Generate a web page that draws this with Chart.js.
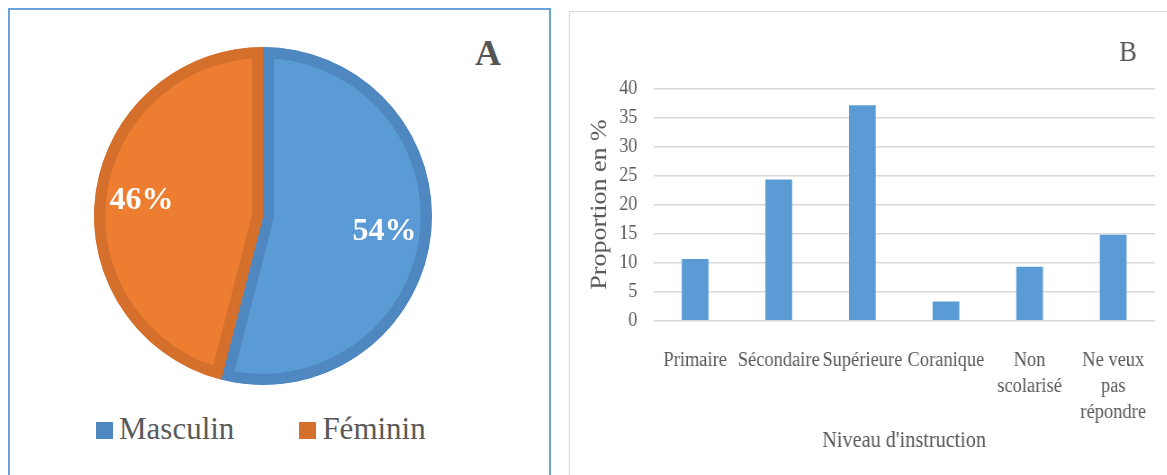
<!DOCTYPE html>
<html lang="fr">
<head>
<meta charset="utf-8">
<title>Répartition par sexe et niveau d'instruction</title>
<script src="https://cdn.jsdelivr.net/npm/chart.js@4.4.1/dist/chart.umd.min.js"></script>
<style>
  html, body { margin: 0; padding: 0; background: #fff; width: 1167px; height: 475px; overflow: hidden; }
  body { position: relative; font-family: "Liberation Serif", "Times New Roman", serif; }
  #panelA { position: absolute; left: 8px; top: 8px; width: 543px; height: 480px;
            border: 2px solid #6aa3d9; box-sizing: border-box; }
  #pieBox { position: absolute; left: 83px; top: 36px; width: 360px; height: 360px; }
  #letterA { position: absolute; left: 475px; top: 35px; font-weight: bold; font-size: 36px;
             line-height: 36px; color: #555; }
  #legendA { position: absolute; left: 96px; top: 413px; font-size: 31px; line-height: 31px;
             color: #595959; white-space: nowrap; }
  #legendA .item { display: inline-block; }
  #legendA .item + .item { margin-left: 65px; }
  #legendA .sw { display: inline-block; width: 17px; height: 17px; margin-right: 6px; }
  #panelB { position: absolute; left: 569px; top: 11px; width: 620px; height: 480px;
            border: 1px solid #d9d9d9; box-sizing: border-box; }
  /* the bar panel is drawn slightly wider, then narrowed horizontally */
  #barBox { position: absolute; left: 570px; top: 12px; width: 664px; height: 463px;
            transform: scaleX(0.9); transform-origin: 0 0; }
</style>
</head>
<body>
<div id="panelA"></div>
<div id="pieBox"><canvas id="pie"></canvas></div>
<div id="letterA">A</div>
<div id="legendA"></div>

<div id="panelB"></div>
<div id="barBox"><canvas id="bar"></canvas></div>

<script>
// Panel A: répartition par sexe (%)
const sexLabels = ['Masculin', 'Féminin'];
const sexValues = [54, 46];
const sexFill = ['#5b9bd5', '#ed7d31'];
const sexEdge = ['#4f88c0', '#d4702c'];

// Panel B: niveau d'instruction (%)
const levelLabels = ['Primaire', 'Sécondaire', 'Supérieure', 'Coranique', ['Non', 'scolarisé'], ['Ne veux', 'pas', 'répondre']];
const levelValues = [10.6, 24.3, 37.1, 3.3, 9.3, 14.8];
const yTickValues = [0, 5, 10, 15, 20, 25, 30, 35, 40];

const serif = '"Liberation Serif", "Times New Roman", serif';
const textGray = '#595959';

// percentage written inside each slice, along its middle angle
const sliceLabels = {
  id: 'sliceLabels',
  afterDatasetsDraw(chart) {
    const ctx = chart.ctx;
    const ds = chart.data.datasets[0];
    const total = ds.data.reduce((a, b) => a + b, 0);
    chart.getDatasetMeta(0).data.forEach((arc, i) => {
      const p = arc.getProps(['x', 'y', 'startAngle', 'endAngle', 'outerRadius'], true);
      const mid = (p.startAngle + p.endAngle) / 2;
      const r = p.outerRadius * 0.725;
      ctx.save();
      ctx.font = 'bold 32px ' + serif;
      ctx.fillStyle = '#ffffff';
      ctx.textAlign = 'center';
      ctx.textBaseline = 'middle';
      ctx.fillText(Math.round(ds.data[i] / total * 100) + '%', p.x + Math.cos(mid) * r, p.y + Math.sin(mid) * r);
      ctx.restore();
    });
  }
};

// panel letter in the upper right corner
const panelLetter = {
  id: 'panelLetter',
  afterDraw(chart, args, opts) {
    const ctx = chart.ctx;
    ctx.save();
    ctx.font = '30px ' + serif;
    ctx.fillStyle = textGray;
    ctx.textAlign = 'center';
    ctx.textBaseline = 'alphabetic';
    ctx.fillText(opts.text, chart.chartArea.right - 30, 48.7);
    ctx.restore();
  }
};

new Chart(document.getElementById('pie'), {
  type: 'pie',
  data: {
    labels: sexLabels,
    datasets: [{
      data: sexValues,
      backgroundColor: sexFill,
      borderColor: sexEdge,
      borderWidth: 11,
      borderAlign: 'inner',
      hoverOffset: 0
    }]
  },
  options: {
    responsive: true,
    maintainAspectRatio: false,
    animation: false,
    events: [],
    radius: 169,
    layout: { padding: 0 },
    plugins: { legend: { display: false }, tooltip: { enabled: false } }
  },
  plugins: [sliceLabels]
});

// legend for panel A
const legendA = document.getElementById('legendA');
sexLabels.forEach((lab, i) => {
  const item = document.createElement('span');
  item.className = 'item';
  const sw = document.createElement('span');
  sw.className = 'sw';
  sw.style.background = sexEdge[i];
  const txt = document.createElement('span');
  txt.textContent = lab;
  item.appendChild(sw);
  item.appendChild(txt);
  legendA.appendChild(item);
});

new Chart(document.getElementById('bar'), {
  type: 'bar',
  data: {
    labels: levelLabels,
    datasets: [{
      data: levelValues,
      backgroundColor: '#5b9bd5',
      barPercentage: 0.32,
      categoryPercentage: 1
    }]
  },
  options: {
    responsive: true,
    maintainAspectRatio: false,
    animation: false,
    events: [],
    layout: { padding: { top: 76.3, right: 14, bottom: 0, left: 0 } },
    scales: {
      x: {
        grid: { display: false },
        border: { display: false },
        ticks: {
          color: textGray,
          font: { family: serif, size: 20.5, lineHeight: 1.27 },
          padding: 18.5,
          maxRotation: 0,
          minRotation: 0,
          autoSkip: false
        },
        title: {
          display: true,
          text: "Niveau d'instruction",
          color: textGray,
          font: { family: serif, size: 22.5, lineHeight: 1.2 },
          padding: { top: 0, bottom: 20 }
        },
        afterFit: s => { s.height = 154.3; }
      },
      y: {
        min: 0,
        max: 40,
        grid: { color: '#d9d9d9', lineWidth: 1.5, drawTicks: false },
        border: { display: false },
        ticks: { color: textGray, font: { family: serif, size: 20 }, padding: 17.8 },
        afterBuildTicks: s => { s.ticks = yTickValues.map(v => ({ value: v })); },
        title: {
          display: true,
          text: 'Proportion en %',
          color: textGray,
          font: { family: serif, size: 26, lineHeight: 1.2 },
          padding: { top: 17.4, bottom: 0 }
        },
        afterFit: s => { s.width = 92.6; }
      }
    },
    plugins: {
      legend: { display: false },
      tooltip: { enabled: false },
      panelLetter: { text: 'B' }
    }
  },
  plugins: [panelLetter]
});
</script>
</body>
</html>
